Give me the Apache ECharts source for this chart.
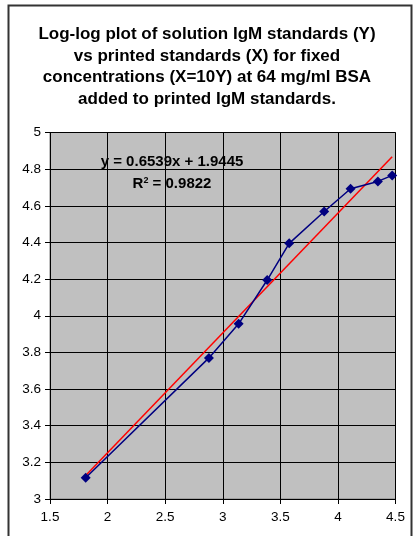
<!DOCTYPE html>
<html>
<head>
<meta charset="utf-8">
<script src="https://cdn.jsdelivr.net/npm/echarts@6/dist/echarts.min.js"></script>
<style>html,body{margin:0;padding:0;background:#fff;}#c{width:414px;height:536px;}</style>
</head>
<body>
<div id="c"></div>
<script>
var titleLines = ['Log-log plot of solution IgM standards (Y)', 'vs printed standards (X) for fixed', 'concentrations (X=10Y) at 64 mg/ml BSA', 'added to printed IgM standards.'];
var xValues = [1.81, 2.88, 3.138, 3.386, 3.577, 3.881, 4.11, 4.347, 4.471];
var yValues = [3.116, 3.77, 3.956, 4.195, 4.395, 4.569, 4.693, 4.733, 4.766];
var trendSlope = 0.6539;
var trendIntercept = 1.9445;
var trendX = [1.81, 4.471];
var xTicks = [1.5, 4.5, 0.5];
var yTicks = [3, 5, 0.2];
var equationText = 'y = 0.6539x + 1.9445';
var r2Text = '0.9822';

var chart = echarts.init(document.getElementById('c'), null, {renderer: 'canvas'});
var fontFam = '"Liberation Sans", Arial, sans-serif';
var data = xValues.map(function (x, i) { return [x, yValues[i]]; });
var trend = trendX.map(function (x) { return [x, trendSlope * x + trendIntercept]; });

chart.setOption({
  animation: false,
  backgroundColor: '#ffffff',
  title: {
    text: titleLines.join('\n'),
    left: 'center', top: 18.5,
    textStyle: {fontFamily: fontFam, fontSize: 17, fontWeight: 'bold', color: '#000', lineHeight: 21.7}
  },
  grid: {left: 50, right: 18.5, top: 132.5, bottom: 37, show: true, backgroundColor: '#c0c0c0', borderColor: '#808080', borderWidth: 1},
  xAxis: {
    type: 'value', min: xTicks[0], max: xTicks[1], interval: xTicks[2],
    axisLine: {show: true, onZero: false, lineStyle: {color: '#000', width: 1}},
    axisTick: {show: true, inside: false, length: 5, lineStyle: {color: '#000'}},
    splitLine: {show: true, lineStyle: {color: '#000', width: 1}},
    axisLabel: {fontFamily: fontFam, fontSize: 13.5, color: '#000', margin: 11}
  },
  yAxis: {
    type: 'value', min: yTicks[0], max: yTicks[1], interval: yTicks[2],
    axisLine: {show: true, onZero: false, lineStyle: {color: '#000', width: 1}},
    axisTick: {show: true, inside: false, length: 5, lineStyle: {color: '#000'}},
    splitLine: {show: true, lineStyle: {color: '#000', width: 1}},
    axisLabel: {fontFamily: fontFam, fontSize: 13.5, color: '#000', margin: 9,
      formatter: function (v) { return String(Math.round(v * 10) / 10); }}
  },
  series: [
    {
      type: 'line', data: trend, symbol: 'none', z: 3,
      lineStyle: {color: '#ff0000', width: 1.5}
    },
    {
      type: 'line', data: data, symbol: 'diamond', symbolSize: 10, z: 4,
      itemStyle: {color: '#000080'},
      lineStyle: {color: '#000080', width: 1.5}
    }
  ],
  graphic: [
    {type: 'rect', shape: {x: 8.5, y: 5.5, width: 403, height: 540}, style: {fill: 'none', stroke: '#333', lineWidth: 2}, silent: true, z: 100},
    {type: 'text', x: 172, y: 162, style: {text: equationText, fontFamily: fontFam, fontSize: 15, fontWeight: 'bold', fill: '#000', align: 'center', verticalAlign: 'middle'}, z: 101},
    {type: 'text', x: 172, y: 184, style: {
      text: '{r|R}{s|2}{r| = ' + r2Text + '}',
      align: 'center', verticalAlign: 'middle',
      rich: {
        r: {fontFamily: fontFam, fontSize: 15, fontWeight: 'bold', color: '#000'},
        s: {fontFamily: fontFam, fontSize: 9, fontWeight: 'bold', color: '#000', verticalAlign: 'top', padding: [0, 0, 7, 0]}
      }}, z: 101}
  ]
});
</script>
</body>
</html>
